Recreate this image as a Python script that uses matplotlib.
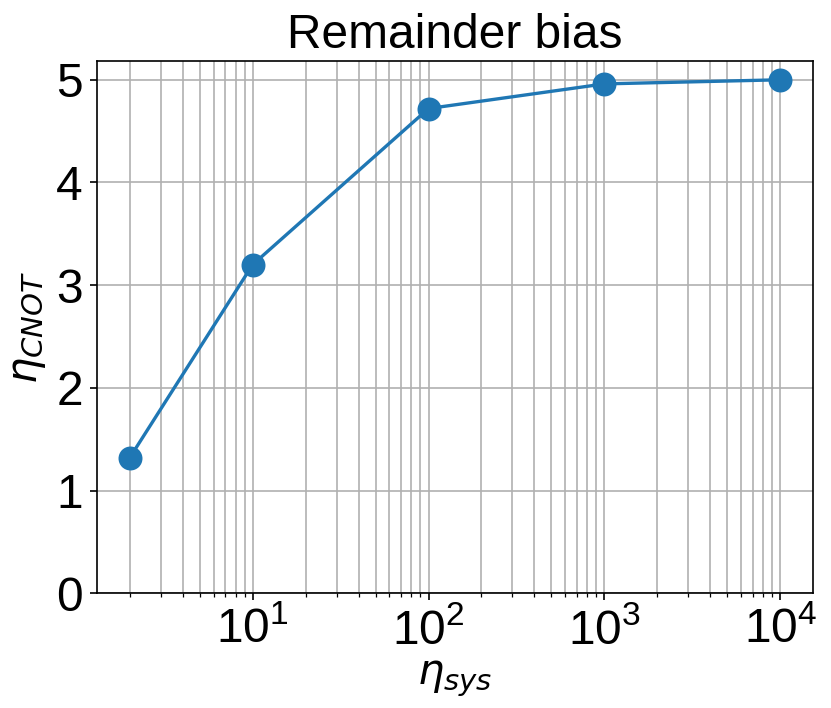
import numpy as np
import matplotlib
matplotlib.use("Agg")
import matplotlib.pyplot as plt
from matplotlib.ticker import MultipleLocator

plt.rcParams['font.family'] = ['Liberation Sans', 'DejaVu Sans']

## data
eta_sys = [2, 10, 100, 1000, 10000]
eta_cnot = [1.32, 3.20, 4.72, 4.96, 5.00]

fig = plt.figure(figsize=(5.54, 4.72), dpi=150)
ax = fig.add_axes([0.117, 0.162, 0.861, 0.752])

ax.plot(eta_sys, eta_cnot, '-o', color='#1f77b4', markersize=10.5, linewidth=1.6)
ax.set_xscale('log')
ax.set_ylim(bottom=0)
ax.yaxis.set_major_locator(MultipleLocator(1))
ax.grid(True, which='both')
ax.tick_params(axis='both', which='major', labelsize=23)

ax.set_xlabel(r'$\eta_{sys}$', fontsize=20, labelpad=2)
ax.set_ylabel(r'$\eta_{CNOT}$', fontsize=20, labelpad=4)
ax.set_title('Remainder bias', fontsize=23)

fig.savefig('out.png', dpi=150)
